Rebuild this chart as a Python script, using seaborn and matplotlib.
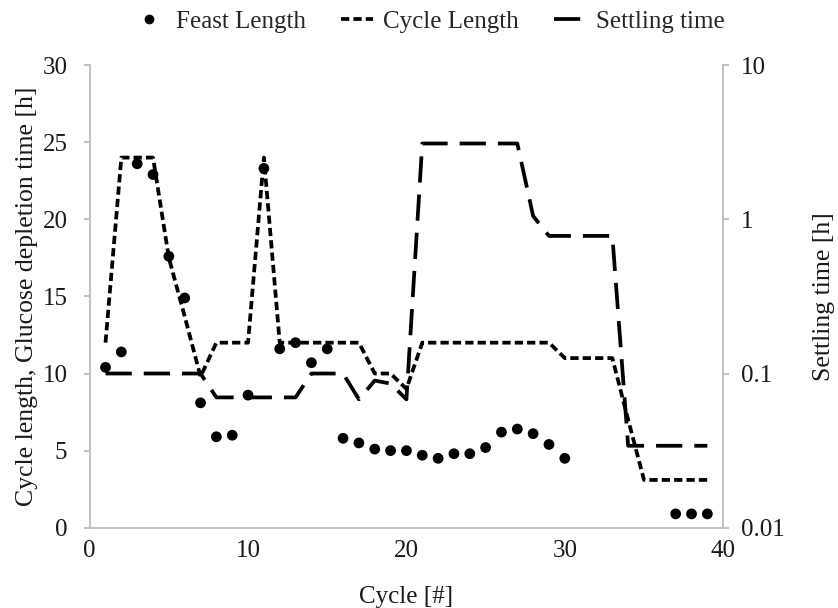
import numpy as np
import pandas as pd
import seaborn as sns
import matplotlib.pyplot as plt
from matplotlib.lines import Line2D

sns.set_theme(style="white")
plt.rcParams['font.family'] = ['Liberation Serif', 'DejaVu Serif']

# Feast length (dots)
feast_cycle = [1, 2, 3, 4, 5, 6, 7, 8, 9, 10, 11, 12, 13, 14, 15, 16, 17, 18, 19, 20,
               21, 22, 23, 24, 25, 26, 27, 28, 29, 30, 37, 38, 39]
feast_len = [10.4, 11.4, 23.6, 22.9, 17.6, 14.9, 8.1, 5.9, 6.0, 8.6, 23.3, 11.6, 12.0,
             10.7, 11.6, 5.8, 5.5, 5.1, 5.0, 5.0, 4.7, 4.5, 4.8, 4.8, 5.2, 6.2, 6.4,
             6.1, 5.4, 4.5, 0.9, 0.9, 0.9]

# Cycle length (short dashes)
cycle_x = list(range(1, 40))
cycle_len = [12, 24, 24, 24, 17.5, 13.7, 9.8, 12, 12, 12, 24, 12, 12, 12, 12, 12, 12,
             10, 10, 9.0, 12, 12, 12, 12, 12, 12, 12, 12, 12, 11, 11, 11, 11, 7.0,
             3.1, 3.1, 3.1, 3.1, 3.1]

# Settling time (long dashes, right log axis)
settle_x = list(range(1, 40))
settle_t = [0.1, 0.1, 0.1, 0.1, 0.1, 0.1, 0.1, 0.07, 0.07, 0.07, 0.07, 0.07, 0.07,
            0.1, 0.1, 0.1, 0.068, 0.09, 0.086, 0.068, 3.1, 3.1, 3.1, 3.1, 3.1, 3.1,
            3.1, 1.05, 0.78, 0.78, 0.78, 0.78, 0.78, 0.034, 0.034, 0.034, 0.034,
            0.034, 0.034]

feast_df = pd.DataFrame({'cycle': feast_cycle, 'value': feast_len})
cycle_df = pd.DataFrame({'cycle': cycle_x, 'value': cycle_len})
settle_df = pd.DataFrame({'cycle': settle_x, 'value': settle_t})

short_dash = [2.2, 1.1]
long_dash = [7.0, 3.2]
lw = 2.7

fig = plt.figure(figsize=(8.38, 6.08), dpi=100)
ax = fig.add_axes([0.107, 0.132, 0.756, 0.761])

sns.scatterplot(data=feast_df, x='cycle', y='value', ax=ax, color='black',
                s=60, edgecolor='none', legend=False, zorder=3)
sns.lineplot(data=cycle_df, x='cycle', y='value', ax=ax, color='black',
             linewidth=lw, legend=False)
ax.lines[-1].set_dashes(short_dash)

ax2 = ax.twinx()
sns.lineplot(data=settle_df, x='cycle', y='value', ax=ax2, color='black',
             linewidth=lw, legend=False)
ax2.lines[-1].set_dashes(long_dash)
ax2.set_yscale('log')
ax2.set_ylim(0.01, 10)
ax2.set_yticks([0.01, 0.1, 1, 10])
ax2.set_yticklabels(['0.01', '0.1', '1', '10'])
ax2.minorticks_off()

ax.set_xlim(0, 40)
ax.set_ylim(0, 30)
ax.set_xticks([0, 10, 20, 30, 40])
ax.set_xticks([5, 15, 25, 35], minor=True)
ax.set_yticks([0, 5, 10, 15, 20, 25, 30])

grey = '#bdbdbd'
text_c = '#1a1a1a'
for a in (ax, ax2):
    a.spines['top'].set_visible(False)
    for s in ('left', 'bottom', 'right'):
        a.spines[s].set_color(grey)
        a.spines[s].set_linewidth(1.3)
    a.tick_params(axis='both', which='both', colors=grey, labelcolor=text_c,
                  labelsize=18, length=4, width=1.3, direction='out')
ax.spines['right'].set_visible(False)
ax2.spines['left'].set_visible(False)
ax2.spines['bottom'].set_visible(False)
ax.tick_params(axis='x', which='both', pad=5)
ax.tick_params(axis='y', pad=12)
ax2.tick_params(axis='y', pad=9)

ax.set_xlabel('Cycle [#]', fontsize=18, color=text_c, labelpad=17)
ax.set_ylabel('Cycle length, Glucose depletion time [h]', fontsize=18.5,
              color=text_c, labelpad=3)
ax2.set_ylabel('Settling time [h]', fontsize=18.5, color=text_c, labelpad=20)

handles = [
    Line2D([], [], color='black', marker='o', linestyle='none', markersize=6),
    Line2D([], [], color='black', linewidth=lw, dashes=short_dash),
    Line2D([], [], color='black', linewidth=lw, dashes=long_dash),
]
fig.legend(handles, ['Feast Length', 'Cycle Length', 'Settling time'],
           loc='center', bbox_to_anchor=(0.512, 0.965), ncol=3, frameon=False,
           fontsize=18, handlelength=1.3, columnspacing=1.4, handletextpad=0.4)

fig.savefig('out.png', dpi=100)
